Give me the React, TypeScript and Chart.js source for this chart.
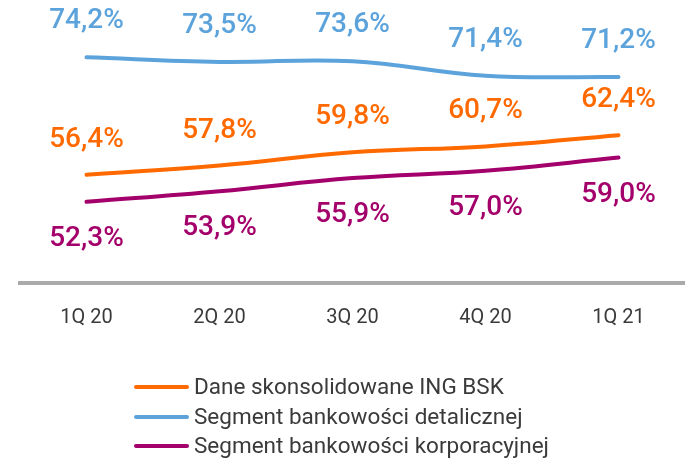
import React, { useEffect, useRef } from "react";
import { Chart, registerables } from "chart.js";

Chart.register(...registerables);

const categories = ["1Q 20", "2Q 20", "3Q 20", "4Q 20", "1Q 21"];
const consolidated = [56.4, 57.8, 59.8, 60.7, 62.4];
const retail = [74.2, 73.5, 73.6, 71.4, 71.2];
const corporate = [52.3, 53.9, 55.9, 57.0, 59.0];
const seriesNames = [
  "Dane skonsolidowane ING BSK",
  "Segment bankowości detalicznej",
  "Segment bankowości korporacyjnej",
];

const ORANGE = "#FF6A00";
const BLUE = "#5CA3DC";
const PURPLE = "#A4006B";
const FONT = "Roboto, 'Noto Sans', sans-serif";

const fmt = (v: number) => v.toFixed(1).replace(".", ",") + "%";

const valueLabels = {
  id: "valueLabels",
  afterDatasetsDraw(chart: any) {
    const ctx = chart.ctx;
    ctx.save();
    ctx.font = `500 28px ${FONT}`;
    ctx.textAlign = "center";
    ctx.textBaseline = "middle";
    chart.data.datasets.forEach((ds: any, i: number) => {
      const meta = chart.getDatasetMeta(i);
      ctx.fillStyle = ds.borderColor;
      meta.data.forEach((pt: any, j: number) => {
        ctx.fillText(fmt(ds.data[j]), pt.x, pt.y + ds.labelOffset);
      });
    });
    ctx.restore();
  },
};

const customLegend = {
  id: "customLegend",
  afterDraw(chart: any) {
    const ctx = chart.ctx;
    ctx.save();
    const rowsY = [387, 417, 446];
    chart.data.datasets.forEach((ds: any, i: number) => {
      const y = rowsY[i];
      ctx.strokeStyle = ds.borderColor;
      ctx.lineWidth = 4;
      ctx.lineCap = "round";
      ctx.beginPath();
      ctx.moveTo(136, y);
      ctx.lineTo(187, y);
      ctx.stroke();
      ctx.fillStyle = "#3a3a3a";
      ctx.font = `22.5px ${FONT}`;
      ctx.textAlign = "left";
      ctx.textBaseline = "middle";
      ctx.fillText(ds.label, 194, y + 1);
    });
    ctx.restore();
  },
};

export default function App() {
  const ref = useRef<HTMLCanvasElement | null>(null);

  useEffect(() => {
    document.body.style.margin = "0";
    if (!ref.current) return;
    const mk = (label: string, data: number[], color: string, labelOffset: number) => ({
      label,
      data,
      borderColor: color,
      backgroundColor: color,
      borderWidth: 4,
      borderCapStyle: "round",
      pointRadius: 0,
      tension: 0.4,
      fill: false,
      labelOffset,
    });
    const chart = new Chart(ref.current, {
      type: "line",
      data: {
        labels: categories,
        datasets: [
          mk(seriesNames[0], consolidated, ORANGE, -35),
          mk(seriesNames[1], retail, BLUE, -36),
          mk(seriesNames[2], corporate, PURPLE, 37),
        ] as any,
      },
      options: {
        animation: false,
        responsive: false,
        maintainAspectRatio: false,
        layout: { padding: { left: 20, right: 0, top: 19, bottom: 113 } },
        plugins: {
          legend: { display: false },
          tooltip: { enabled: false },
          title: { display: false },
        },
        scales: {
          x: {
            type: "category",
            offset: true,
            grid: { display: false },
            border: { display: true, color: "#AAAAAA", width: 4 },
            ticks: {
              color: "#3a3a3a",
              font: { family: FONT, size: 20 },
              padding: 15,
            },
          },
          y: {
            display: false,
            min: 40,
            max: 80,
          },
        },
      } as any,
      plugins: [valueLabels, customLegend],
    });
    return () => chart.destroy();
  }, []);

  return (
    <div style={{ width: 685, height: 458, position: "relative", background: "#fff" }}>
      <canvas ref={ref} width={685} height={458} style={{ display: "block" }} />
    </div>
  );
}
